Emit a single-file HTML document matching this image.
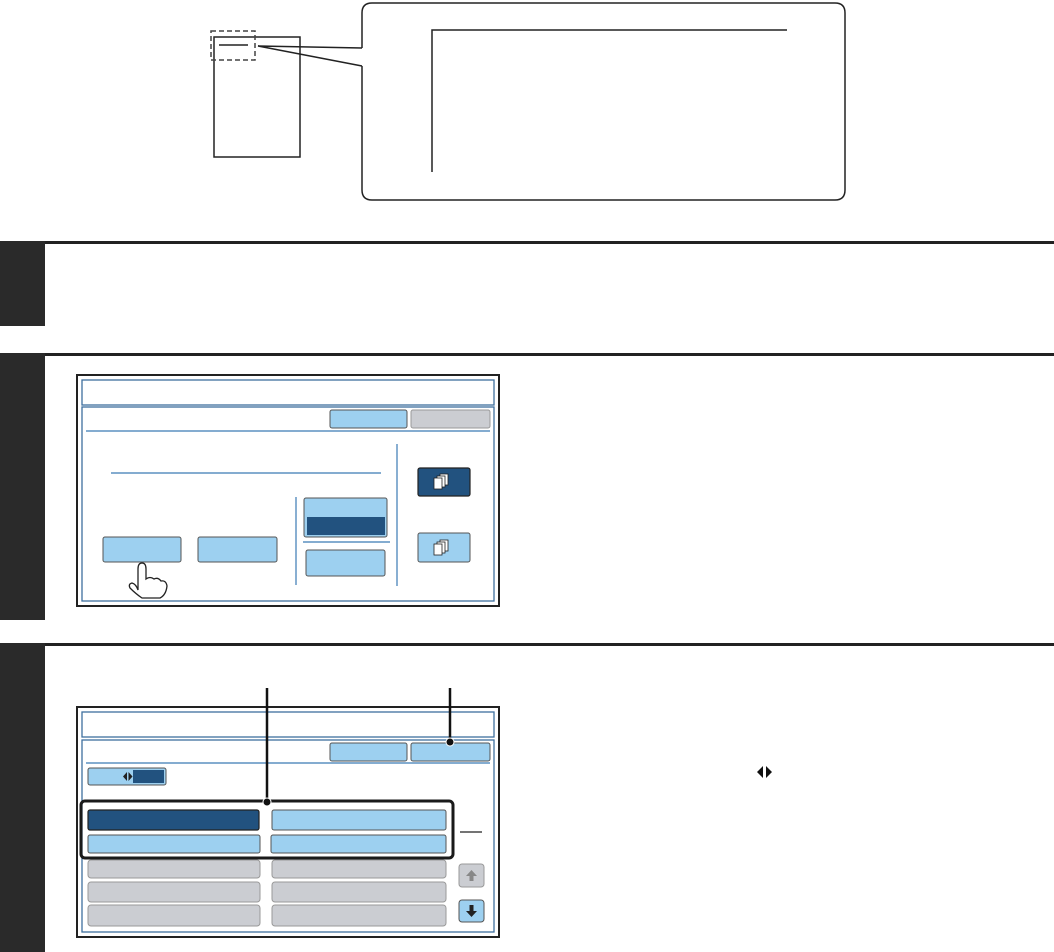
<!DOCTYPE html>
<html><head><meta charset="utf-8"><style>
html,body{margin:0;padding:0;background:#fff;width:1054px;height:952px;overflow:hidden}
svg{display:block}
</style></head><body>
<svg width="1054" height="952" viewBox="0 0 1054 952" xmlns="http://www.w3.org/2000/svg">
<defs>
<style>
.lb{fill:#9dd0f0;stroke:#555;stroke-width:1}
.dk{fill:#22527f;stroke:#222;stroke-width:1.2}
.gr{fill:#cbcdd2;stroke:#999;stroke-width:1}
.bl{stroke:#3b7ab5;stroke-width:1.2;fill:none}
</style>
</defs>
<rect x="214" y="37" width="86" height="120" fill="#fff" stroke="#222" stroke-width="1.5"/>
<rect x="211" y="31" width="44" height="29" fill="none" stroke="#444" stroke-width="1.5" stroke-dasharray="5,3"/>
<line x1="219" y1="45" x2="248" y2="45" stroke="#222" stroke-width="1.5"/>
<path d="M362,48 V13 Q362,3 372,3 H835 Q845,3 845,13 V190 Q845,200 835,200 H372 Q362,200 362,190 V66" fill="#fff" stroke="#222" stroke-width="1.5"/>
<path d="M362,48 L258,46 L362,66" fill="none" stroke="#222" stroke-width="1.5"/>
<path d="M432,172 V30 H787" fill="none" stroke="#222" stroke-width="1.5"/>

<rect x="0" y="241" width="1054" height="3" fill="#222"/>
<rect x="0" y="241" width="45" height="85" fill="#2a2a2a"/>
<rect x="0" y="353" width="1054" height="3" fill="#222"/>
<rect x="0" y="353" width="45" height="267" fill="#2a2a2a"/>
<rect x="0" y="643" width="1054" height="3" fill="#222"/>
<rect x="0" y="643" width="45" height="309" fill="#2a2a2a"/>

<rect x="77" y="375" width="422" height="231" fill="#fff" stroke="#222" stroke-width="2"/>
<rect x="82" y="380" width="412" height="25" fill="#fff" stroke="#3e6f9f" stroke-width="1.3"/>
<rect x="82" y="407" width="412" height="194" fill="#fff" stroke="#3e6f9f" stroke-width="1.3"/>
<rect x="330" y="410" width="77" height="18" rx="2" class="lb"/>
<rect x="411" y="410" width="79" height="18" rx="2" class="gr"/>
<line x1="86" y1="431" x2="490" y2="431" class="bl"/>
<line x1="111" y1="473" x2="381" y2="473" class="bl"/>
<line x1="397" y1="444" x2="397" y2="586" class="bl"/>
<line x1="296" y1="497" x2="296" y2="585" class="bl"/>
<rect x="103" y="537" width="78" height="25" rx="2" class="lb"/>
<rect x="198" y="537" width="79" height="25" rx="2" class="lb"/>
<rect x="304" y="498" width="83" height="39" rx="2" class="lb"/>
<rect x="307" y="517" width="78" height="18" fill="#22527f"/>
<line x1="303" y1="542" x2="390" y2="542" class="bl"/>
<rect x="306" y="550" width="79" height="26" rx="2" class="lb"/>
<rect x="418" y="468" width="52" height="28" rx="2" class="dk"/>
<rect x="418" y="533" width="52" height="29" rx="2" class="lb"/>
<g fill="#fff" stroke="#222" stroke-width="0.8">
<rect x="440" y="474" width="8" height="11"/><rect x="437" y="476" width="8" height="11"/><rect x="434" y="478" width="8" height="11"/>
<rect x="440" y="540" width="8" height="11"/><rect x="437" y="542" width="8" height="11"/><rect x="434" y="544" width="8" height="11"/>
</g>
<path d="M138,590 V569 Q138,563 142,563 Q146,563 146,569 V579 Q150,576 154,579 Q158,577 161,581 Q166,580 167,586 Q166,595 160,598 H142 Q136,594 130,588 Q128,584 132,583 Q136,584 138,590 Z" fill="#fff" stroke="#222" stroke-width="1.3"/>

<rect x="77" y="707" width="422" height="230" fill="#fff" stroke="#222" stroke-width="2"/>
<rect x="82" y="712" width="412" height="25" fill="#fff" stroke="#3e6f9f" stroke-width="1.3"/>
<rect x="82" y="740" width="412" height="192" fill="#fff" stroke="#3e6f9f" stroke-width="1.3"/>
<rect x="330" y="743" width="77" height="18" rx="2" class="lb"/>
<rect x="411" y="743" width="79" height="18" rx="2" class="lb"/>
<line x1="86" y1="763" x2="490" y2="763" class="bl"/>
<rect x="88" y="768" width="78" height="17" rx="2" class="lb"/>
<rect x="133" y="770" width="31" height="13" fill="#22527f"/>
<path d="M123,776.5 L127,772 V781 Z M128.5,772 L132.5,776.5 L128.5,781 Z" fill="#222"/>
<rect x="88" y="810" width="171" height="20" rx="2" class="dk"/>
<rect x="272" y="810" width="174" height="20" rx="2" class="lb"/>
<rect x="88" y="835" width="172" height="18" rx="2" class="lb"/>
<rect x="271" y="835" width="175" height="18" rx="2" class="lb"/>
<rect x="88" y="860" width="172" height="18" rx="3" class="gr"/>
<rect x="272" y="860" width="174" height="18" rx="3" class="gr"/>
<rect x="88" y="882" width="172" height="20" rx="3" class="gr"/>
<rect x="272" y="882" width="174" height="20" rx="3" class="gr"/>
<rect x="88" y="905" width="172" height="21" rx="3" class="gr"/>
<rect x="272" y="905" width="174" height="21" rx="3" class="gr"/>
<rect x="81" y="801" width="372" height="57" rx="4" fill="none" stroke="#1a1a1a" stroke-width="3"/>
<line x1="460" y1="832" x2="482" y2="832" stroke="#222" stroke-width="1.2"/>
<rect x="459" y="864" width="25" height="23" rx="3" class="gr"/>
<path d="M471.5,870 L466,876 H469.5 V881 H473.5 V876 H477 Z" fill="#888"/>
<rect x="459" y="900" width="25" height="22" rx="3" class="lb" stroke="#222"/>
<path d="M471.5,917 L466,911 H469.5 V905 H473.5 V911 H477 Z" fill="#222"/>
<line x1="267" y1="688" x2="267" y2="801" stroke="#111" stroke-width="2.5"/>
<circle cx="267" cy="802" r="4" fill="#111" stroke="#fff" stroke-width="1"/>
<line x1="450" y1="688" x2="450" y2="741" stroke="#111" stroke-width="2.5"/>
<circle cx="450" cy="742" r="4" fill="#111" stroke="#fff" stroke-width="1"/>
<path d="M757,772 L763,766 V778 Z M766,766 L772,772 L766,778 Z" fill="#111"/>
</svg>
</body></html>
